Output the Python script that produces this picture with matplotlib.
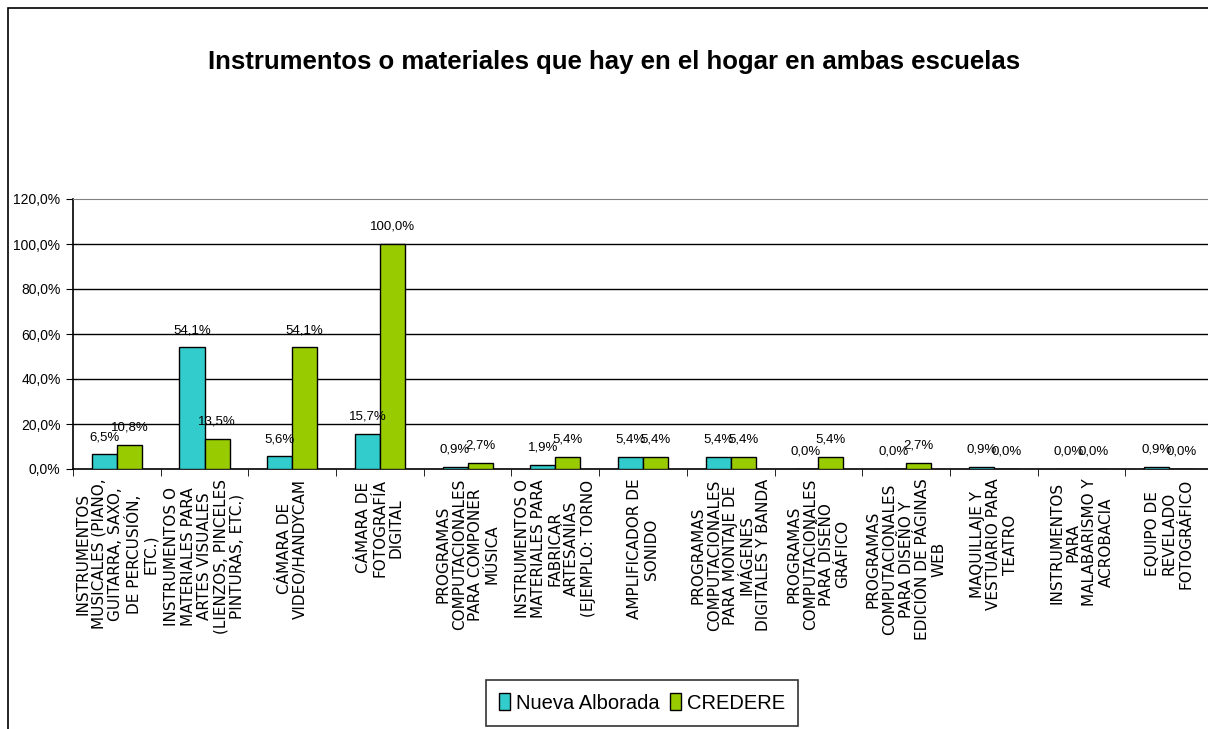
import numpy as np
import matplotlib
matplotlib.use("Agg")
import matplotlib.pyplot as plt
from matplotlib.patches import Rectangle

categorias = [
    "INSTRUMENTOS\nMUSICALES (PIANO,\nGUITARRA, SAXO,\nDE PERCUSIÓN,\nETC.)",
    "INSTRUMENTOS O\nMATERIALES PARA\nARTES VISUALES\n(LIENZOS, PINCELES\nPINTURAS, ETC.)",
    "CÁMARA DE\nVIDEO/HANDYCAM",
    "CÁMARA DE\nFOTOGRAFÍA\nDIGITAL",
    "PROGRAMAS\nCOMPUTACIONALES\nPARA COMPONER\nMÚSICA",
    "INSTRUMENTOS O\nMATERIALES PARA\nFABRICAR\nARTESANÍAS\n(EJEMPLO: TORNO",
    "AMPLIFICADOR DE\nSONIDO",
    "PROGRAMAS\nCOMPUTACIONALES\nPARA MONTAJE DE\nIMÁGENES\nDIGITALES Y BANDA",
    "PROGRAMAS\nCOMPUTACIONALES\nPARA DISEÑO\nGRÁFICO",
    "PROGRAMAS\nCOMPUTACIONALES\nPARA DISEÑO Y\nEDICIÓN DE PÁGINAS\nWEB",
    "MAQUILLAJE Y\nVESTUARIO PARA\nTEATRO",
    "INSTRUMENTOS\nPARA\nMALABARISMO Y\nACROBACIA",
    "EQUIPO DE\nREVELADO\nFOTOGRÁFICO",
]
nueva_alborada = [6.5, 54.1, 5.6, 15.7, 0.9, 1.9, 5.4, 5.4, 0.0, 0.0, 0.9, 0.0, 0.9]
credere = [10.8, 13.5, 54.1, 100.0, 2.7, 5.4, 5.4, 5.4, 5.4, 2.7, 0.0, 0.0, 0.0]
yticks = [0, 20, 40, 60, 80, 100, 120]

NARROW = ["Liberation Sans", "DejaVu Sans"]
WIDE = ["DejaVu Sans"]

def pct(v):
    return f"{v:.1f}%".replace(".", ",")

fig = plt.figure(figsize=(12.08, 7.29), dpi=100)
fig.patches.append(Rectangle((8 / 1208, -0.1), 1.2, 1 - 8 / 729 + 0.1,
                             transform=fig.transFigure, fill=False,
                             edgecolor="black", linewidth=1.2))

ax = fig.add_axes([73 / 1208, 1 - 469 / 729, 1140 / 1208, 270 / 729])
x = np.arange(len(categorias))
w = 0.286
b1 = ax.bar(x - w / 2, nueva_alborada, w, color="#33CCCC", edgecolor="black", linewidth=1, zorder=3,
            label="Nueva Alborada")
b2 = ax.bar(x + w / 2, credere, w, color="#99CC00", edgecolor="black", linewidth=1, zorder=3,
            label="CREDERE")

for bars, vals in ((b1, nueva_alborada), (b2, credere)):
    for r, v in zip(bars, vals):
        ax.annotate(pct(v), (r.get_x() + r.get_width() / 2, v), xytext=(0, 8),
                    textcoords="offset points", ha="center", va="bottom",
                    fontsize=9.5, family=NARROW, zorder=4)

ax.set_xlim(-0.5, len(categorias) - 0.5)
ax.set_ylim(0, 120)
ax.set_yticks(yticks)
ax.set_yticklabels([pct(v) for v in yticks], family=NARROW, fontsize=10)
for v in yticks[1:-1]:
    ax.axhline(v, color="black", linewidth=1, zorder=1)

ax.set_xticks(x)
ax.set_xticklabels(categorias, rotation=90, ha="center", va="top", multialignment="center",
                   family=WIDE, fontsize=11, linespacing=1.12)
ax.set_xticks(np.arange(-0.5, len(categorias)), minor=True)
ax.tick_params(axis="x", which="major", length=0, pad=7)
ax.tick_params(axis="x", which="minor", length=5, direction="out", color="black")
ax.tick_params(axis="y", length=5, direction="out", pad=4)

ax.spines["top"].set_color("#808080")
ax.spines["right"].set_visible(False)
for s in ("left", "bottom"):
    ax.spines[s].set_color("black")
    ax.spines[s].set_linewidth(1.2)

fig.text(614 / 1208, 1 - 62 / 729, "Instrumentos o materiales que hay en el hogar en ambas escuelas",
         ha="center", va="center", fontsize=18.5, fontweight="bold", family=NARROW)

leg = fig.legend(handles=[b1, b2], loc="center", bbox_to_anchor=(642 / 1208, 1 - 703 / 729),
                 ncol=2, frameon=True, fancybox=False, edgecolor="black",
                 prop={"family": NARROW, "size": 14.5}, handlelength=0.55, handleheight=0.9,
                 handletextpad=0.3, columnspacing=0.5, borderpad=0.65, borderaxespad=0)
leg.get_frame().set_linewidth(1.2)

fig.savefig("out.png", dpi=100)
